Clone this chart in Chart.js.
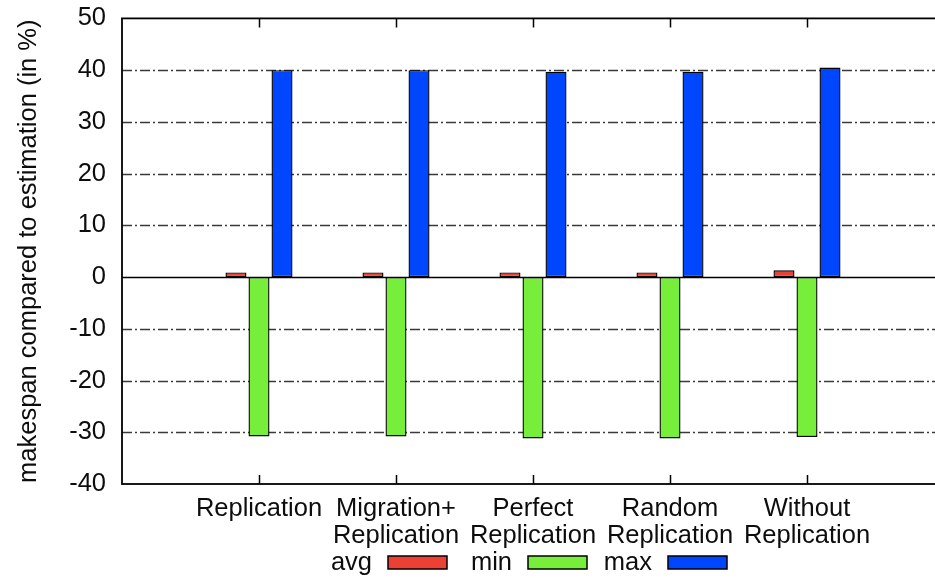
<!DOCTYPE html>
<html>
<head>
<meta charset="utf-8">
<script src="https://cdn.jsdelivr.net/npm/chart.js@4.4.1/dist/chart.umd.min.js"></script>
<style>
   html, body { margin: 0; padding: 0; background: #fff; overflow: hidden; }
</style>
</head>
<body>
<canvas id="myChart" width="950" height="578"></canvas>
<script>
const categories = ['Replication', 'Migration+ Replication', 'Perfect Replication', 'Random Replication', 'Without Replication'];
const avgValues = [0.9, 0.9, 0.9, 0.9, 1.3];
const minValues = [-30.8, -30.8, -31.2, -31.2, -30.9];
const maxValues = [40.0, 40.0, 39.7, 39.7, 40.5];
const yTicks = [-40, -30, -20, -10, 0, 10, 20, 30, 40, 50];

const FONT = '"Liberation Sans", Arial, Helvetica, sans-serif';
const TEXT = '#0d0d0d';

Chart.defaults.font.family = FONT;
Chart.defaults.font.size = 25.5;
Chart.defaults.color = TEXT;

const toPoints = (vals) => vals.map((v, i) => ({ x: i, y: v }));

// gnuplot-like frame, dash-dot grid, zero axis, inside ticks and legend
const gnuplotLook = {
   id: 'gnuplotLook',
   beforeDatasetsDraw(chart) {
      const { ctx, chartArea: a, scales: { y } } = chart;
      ctx.save();
      y.ticks.forEach(t => {
         if (t.value === y.min || t.value === y.max) return;
         const py = Math.round(y.getPixelForValue(t.value)) + 0.5;
         ctx.beginPath();
         if (t.value === 0) {
            ctx.setLineDash([]);
            ctx.strokeStyle = '#000';
            ctx.lineWidth = 1.6;
         } else {
            ctx.setLineDash([10, 3, 2, 3]);
            ctx.strokeStyle = '#3a3a3a';
            ctx.lineWidth = 1.3;
         }
         ctx.moveTo(a.left, py);
         ctx.lineTo(a.right, py);
         ctx.stroke();
      });
      ctx.restore();
   },
   afterDatasetsDraw(chart) {
      const { ctx, chartArea: a, scales: { x } } = chart;
      ctx.save();
      ctx.setLineDash([]);
      ctx.strokeStyle = '#000';
      ctx.lineWidth = 1.8;
      ctx.strokeRect(a.left, a.top, a.right - a.left, a.bottom - a.top);
      ctx.lineWidth = 1.5;
      x.ticks.forEach(t => {
         if (t.value < 0 || t.value >= categories.length) return;
         const px = Math.round(x.getPixelForValue(t.value)) + 0.5;
         ctx.beginPath();
         ctx.moveTo(px, a.bottom);
         ctx.lineTo(px, a.bottom - 9);
         ctx.moveTo(px, a.top);
         ctx.lineTo(px, a.top + 9);
         ctx.stroke();
      });
      ctx.restore();
   },
   afterDraw(chart) {
      const { ctx } = chart;
      ctx.save();
      ctx.font = '25.5px ' + FONT;
      ctx.textAlign = 'right';
      ctx.textBaseline = 'middle';
      chart.data.datasets.forEach((ds, i) => {
         const bx = 388 + 140 * i;
         ctx.fillStyle = TEXT;
         ctx.fillText(ds.label, bx - 16, 563);
         ctx.fillStyle = ds.backgroundColor;
         ctx.fillRect(bx, 556, 59, 13);
         ctx.strokeStyle = '#000';
         ctx.lineWidth = 1.5;
         ctx.strokeRect(bx, 556, 59, 13);
      });
      ctx.restore();
   }
};

const ctx = document.getElementById('myChart').getContext('2d');
const myChart = new Chart(ctx, {
   type: 'bar',
   data: {
      datasets: [{
         label: 'avg',
         data: toPoints(avgValues),
         backgroundColor: 'rgb(236, 64, 52)'
      }, {
         label: 'min',
         data: toPoints(minValues),
         backgroundColor: 'rgb(118, 238, 58)'
      }, {
         label: 'max',
         data: toPoints(maxValues),
         backgroundColor: 'rgb(0, 70, 255)'
      }]
   },
   options: {
      responsive: false,
      animation: false,
      devicePixelRatio: 1,
      layout: { padding: { top: 0, right: 6, bottom: 0, left: 0 } },
      datasets: {
         bar: {
            borderColor: '#000',
            borderWidth: 1.4,
            borderSkipped: false,
            categoryPercentage: 0.504,
            barPercentage: 0.913
         }
      },
      plugins: {
         legend: { display: false },
         tooltip: { enabled: false }
      },
      scales: {
         x: {
            type: 'linear',
            min: -1,
            max: 5,
            offset: false,
            grid: { display: false },
            border: { display: false },
            afterFit: (s) => { s.height = 94; },
            ticks: {
               stepSize: 1,
               autoSkip: false,
               maxRotation: 0,
               minRotation: 0,
               padding: 4,
               font: { lineHeight: 1.04 },
               callback: (v) => {
                  const c = categories[v];
                  return c === undefined ? '' : c.split(' ');
               }
            }
         },
         y: {
            min: -40,
            max: 50,
            grid: { display: false },
            border: { display: false },
            afterFit: (s) => {
               s.width = 122;
               s.paddingTop = 18.4;
               s.paddingBottom = 0;
            },
            afterBuildTicks: (s) => { s.ticks = yTicks.map(v => ({ value: v })); },
            ticks: { padding: 8 },
            title: {
               display: true,
               text: 'makespan compared to estimation (in %)',
               padding: { top: 14, bottom: 0 }
            }
         }
      }
   },
   plugins: [gnuplotLook]
});
</script>
</body>
</html>
